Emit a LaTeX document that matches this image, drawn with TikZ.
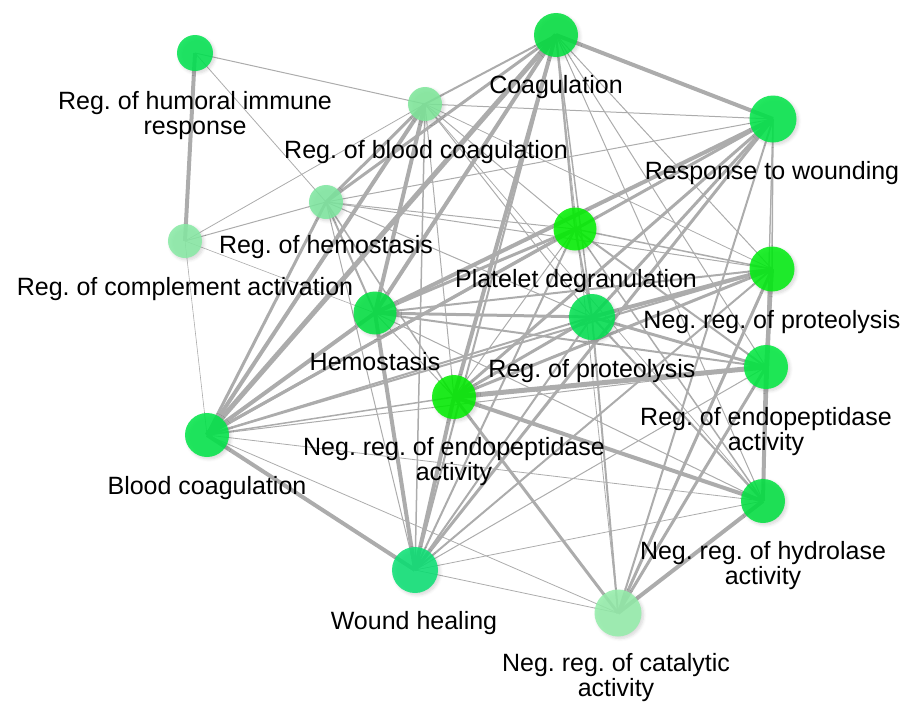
\documentclass[tikz,border=0pt]{standalone}
\usepackage{fontspec}
\setmainfont{Liberation Sans}
\usetikzlibrary{shadows.blur}
\pgfdeclarelayer{background}
\pgfsetlayers{background,main}
\frenchspacing
\definecolor{edgec}{RGB}{172,172,172}
\definecolor{cH}{RGB}{0,228,80}
\definecolor{cC}{RGB}{0,224,62}
\definecolor{cRBC}{RGB}{126,232,154}
\definecolor{cRW}{RGB}{0,230,72}
\definecolor{cRH}{RGB}{126,232,160}
\definecolor{cRC}{RGB}{136,235,165}
\definecolor{cPD}{RGB}{0,242,0}
\definecolor{cNRP}{RGB}{0,238,16}
\definecolor{cHe}{RGB}{0,226,64}
\definecolor{cRP}{RGB}{0,226,80}
\definecolor{cRE}{RGB}{0,234,64}
\definecolor{cNRE}{RGB}{0,238,0}
\definecolor{cBC}{RGB}{0,230,72}
\definecolor{cNRH}{RGB}{0,226,64}
\definecolor{cWH}{RGB}{10,226,116}
\definecolor{cNRC}{RGB}{148,238,170}
\begin{document}
\begin{tikzpicture}[x=1pt,y=-1pt,
  gnode/.style={circle, inner sep=0pt, minimum size=#1, fill opacity=0.86,
    blur shadow={shadow xshift=2pt, shadow yshift=-2pt, shadow opacity=18, shadow blur steps=6, shadow blur radius=3pt}},
  lab/.style={font=\fontsize{25}{25}\selectfont\frenchspacing, align=center, inner sep=0pt, anchor=north, text=black},
  edgeline/.style={draw=edgec, line width=#1}
]
\useasboundingbox (0,0) rectangle (906,702);
% nodes
\node[gnode=36pt, fill=cH]   (H)   at (195,53)  {};
\node[gnode=44pt, fill=cC]   (C)   at (556,35)  {};
\node[gnode=34pt, fill=cRBC] (RBC) at (425,104) {};
\node[gnode=47pt, fill=cRW]  (RW)  at (773,119) {};
\node[gnode=34pt, fill=cRH]  (RH)  at (326,202) {};
\node[gnode=34pt, fill=cRC]  (RC)  at (185,241) {};
\node[gnode=43pt, fill=cPD]  (PD)  at (575,229) {};
\node[gnode=45pt, fill=cNRP] (NRP) at (772,269) {};
\node[gnode=43pt, fill=cHe]  (He)  at (375,313) {};
\node[gnode=46pt, fill=cRP]  (RP)  at (592,317) {};
\node[gnode=44pt, fill=cRE]  (RE)  at (766,367) {};
\node[gnode=44pt, fill=cNRE] (NRE) at (454,397) {};
\node[gnode=44pt, fill=cBC]  (BC)  at (207,435) {};
\node[gnode=44pt, fill=cNRH] (NRH) at (763,501) {};
\node[gnode=46pt, fill=cWH]  (WH)  at (415,570) {};
\node[gnode=47pt, fill=cNRC] (NRC) at (618,613) {};
% labels
\node[lab] (lH)   at (195,91.5)  {Reg. of humoral immune\\response};
\node[lab] (lC)   at (556,75.5)  {Coagulation};
\node[lab] (lRBC) at (426,140.5) {Reg. of blood coagulation};
\node[lab] (lRW)  at (772,161.5) {Response to wounding};
\node[lab] (lRH)  at (326,235.5) {Reg. of hemostasis};
\node[lab] (lRC)  at (185,277.5) {Reg. of complement activation};
\node[lab] (lPD)  at (576,269.5) {Platelet degranulation};
\node[lab] (lNRP) at (772,310.5) {Neg. reg. of proteolysis};
\node[lab] (lHe)  at (375,352.5) {Hemostasis};
\node[lab] (lRP)  at (592,359.5) {Reg. of proteolysis};
\node[lab] (lRE)  at (766,407.5) {Reg. of endopeptidase\\activity};
\node[lab] (lNRE) at (454,437.5) {Neg. reg. of endopeptidase\\activity};
\node[lab] (lBC)  at (207,476.5) {Blood coagulation};
\node[lab] (lNRH) at (763,541.5) {Neg. reg. of hydrolase\\activity};
\node[lab] (lWH)  at (414,611.5) {Wound healing};
\node[lab] (lNRC) at (616,653) {Neg. reg. of catalytic\\activity};
% edges
\begin{pgfonlayer}{background}
\foreach \a/\b/\w in {
 H/RC/4, H/RBC/1, H/RH/0.8, RC/RH/1, RC/RBC/0.8, RC/BC/0.6, RC/He/0.6,
 C/RW/4, C/RBC/2, C/RH/3, C/BC/5, C/He/4, C/NRE/4, C/PD/2, C/RP/1.5, C/NRP/1, C/RE/1, C/NRH/1, C/WH/2, C/NRC/0.8,
 RBC/RH/3, RBC/BC/4, RBC/He/4, RBC/WH/1.5, RBC/RW/1, RBC/PD/1, RBC/NRP/0.8, RBC/RP/1, RBC/NRE/1, RBC/NRH/0.8,
 RH/BC/3, RH/He/2, RH/WH/1, RH/PD/1, RH/RW/1, RH/NRP/1, RH/RP/1, RH/NRE/1.5,
 RW/BC/3, RW/He/4, RW/PD/1, RW/NRP/1.5, RW/RP/3, RW/NRE/3, RW/RE/1, RW/NRH/1, RW/WH/3, RW/NRC/2,
 PD/He/3, PD/BC/3, PD/NRP/1.5, PD/RP/2, PD/RE/2, PD/NRE/1, PD/WH/2, PD/NRH/1.5,
 NRP/RP/4, NRP/NRE/3, NRP/He/2, NRP/RE/4, NRP/NRH/2, NRP/WH/2, NRP/NRC/3, NRP/BC/2,
 He/BC/4, He/WH/4, He/RP/3, He/RE/2, He/NRE/1, He/NRH/1,
 RP/NRE/3, RP/RE/3, RP/NRH/2, RP/NRC/2, RP/WH/2, RP/BC/2,
 RE/NRE/5, RE/NRH/4, RE/NRC/3, RE/BC/1, RE/WH/1,
 NRE/BC/1.5, NRE/NRH/4, NRE/WH/4, NRE/NRC/3,
 NRH/NRC/4, NRH/BC/0.8, NRH/WH/0.8, WH/BC/4, WH/NRC/0.8, NRC/BC/0.8}
 \draw[edgeline=\w pt] (\a.center) -- (\b.center);
\end{pgfonlayer}
\end{tikzpicture}
\end{document}
